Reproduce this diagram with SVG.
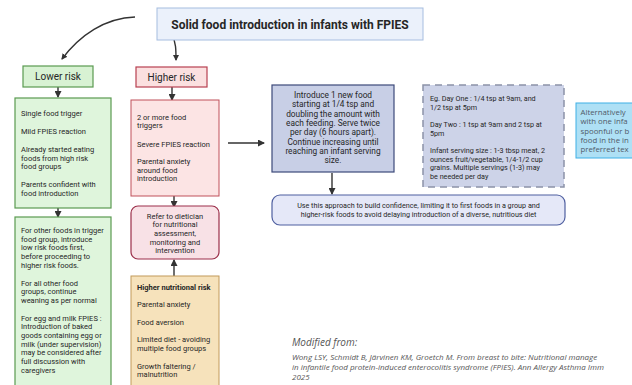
<svg xmlns="http://www.w3.org/2000/svg" width="632" height="385" viewBox="0 0 632 385">
<style>
text{font-family:Roboto,"Liberation Sans",sans-serif;fill:#262626}
.b{font-size:7.5px}
.c{font-size:8.3px;text-anchor:middle}
.d{font-size:7.2px}
.h{font-size:10px;text-anchor:middle}
.ref{font-family:"Open Sans","Liberation Sans",sans-serif;font-style:italic;fill:#555}
.alt{font-family:"Open Sans","Liberation Sans",sans-serif;font-size:7.8px;fill:#505a68}
.ln{stroke:#333;stroke-width:1.4;fill:none}
</style>
<defs>
<marker id="ah" markerWidth="6" markerHeight="6" refX="5" refY="3" orient="auto" markerUnits="userSpaceOnUse"><path d="M0,0 L6,3 L0,6 Z" fill="#333"/></marker>
<marker id="ah2" markerWidth="7" markerHeight="7" refX="6" refY="3.5" orient="auto" markerUnits="userSpaceOnUse"><path d="M0,0 L7,3.5 L0,7 Z" fill="#333"/></marker>
</defs>
<rect width="632" height="385" fill="#fff"/>

<g id="connectors">
<path class="ln" d="M135,17 C105,18 80,35 62,59" stroke-width="1.2" marker-end="url(#ah)"/>
<path class="ln" d="M172,35 C176,42 176,50 176,60" stroke-width="1.2" marker-end="url(#ah)"/>
<line class="ln" x1="58" y1="87" x2="58" y2="97" marker-end="url(#ah2)"/>
<line class="ln" x1="58" y1="208" x2="58" y2="217" marker-end="url(#ah2)"/>
<line class="ln" x1="172" y1="87" x2="172" y2="100" marker-end="url(#ah2)"/>
<line class="ln" x1="174" y1="196" x2="174" y2="207" marker-end="url(#ah2)"/>
<line class="ln" x1="174" y1="276" x2="174" y2="260" marker-end="url(#ah2)"/>
<line class="ln" x1="228" y1="143" x2="264" y2="143" marker-end="url(#ah2)"/>
<line class="ln" x1="332" y1="173" x2="332" y2="194" marker-end="url(#ah2)"/>
</g>

<g id="title">
<rect x="157" y="8" width="266" height="32" fill="#ebf1fb" stroke="#a6bde0" stroke-width="1"/>
<text x="290" y="28.5" font-size="12" font-weight="bold" text-anchor="middle">Solid food introduction in infants with FPIES</text>
</g>

<g id="lower-risk">
<rect x="23" y="66" width="70" height="21" fill="#d8f2d3" stroke="#5a9a50" stroke-width="1.2"/>
<text class="h" x="58" y="80">Lower risk</text>
</g>

<g id="higher-risk">
<rect x="136" y="67" width="71" height="20" fill="#fbe0e0" stroke="#b84050" stroke-width="1.2"/>
<text class="h" x="171.5" y="80.5">Higher risk</text>
</g>

<g id="lower-criteria">
<rect x="15" y="98" width="96" height="110" fill="#dff5dc" stroke="#5a9a50" stroke-width="1.2"/>
<text class="b" x="21" y="116">Single food trigger</text>
<text class="b" x="21" y="134">Mild FPIES reaction</text>
<text class="b" x="21" y="152">Already started eating</text>
<text class="b" x="21" y="160.7">foods from high risk</text>
<text class="b" x="21" y="169.4">food groups</text>
<text class="b" x="21" y="187">Parents confident with</text>
<text class="b" x="21" y="195.7">food introduction</text>
</g>

<g id="lower-advice">
<rect x="15" y="217" width="96" height="175" fill="#dff5dc" stroke="#5a9a50" stroke-width="1.2"/>
<text class="b" x="21" y="233">For other foods in trigger</text>
<text class="b" x="21" y="241.7">food group, introduce</text>
<text class="b" x="21" y="250.4">low risk foods first,</text>
<text class="b" x="21" y="259.1">before proceeding to</text>
<text class="b" x="21" y="267.8">higher risk foods.</text>
<text class="b" x="21" y="285.5">For all other food</text>
<text class="b" x="21" y="294.2">groups, continue</text>
<text class="b" x="21" y="302.9">weaning as per normal</text>
<text class="b" x="21" y="320.6">For egg and milk FPIES :</text>
<text class="b" x="21" y="329.3">Introduction of baked</text>
<text class="b" x="21" y="338">goods containing egg or</text>
<text class="b" x="21" y="346.7">milk (under supervision)</text>
<text class="b" x="21" y="355.4">may be considered after</text>
<text class="b" x="21" y="364.1">full discussion with</text>
<text class="b" x="21" y="372.8">caregivers</text>
</g>

<g id="higher-criteria">
<rect x="131" y="100" width="88" height="96" fill="#fce4e4" stroke="#c0505a" stroke-width="1"/>
<text class="b" x="137" y="119.5">2 or more  food</text>
<text class="b" x="137" y="128.2">triggers</text>
<text class="b" x="137" y="146.5">Severe FPIES reaction</text>
<text class="b" x="137" y="164">Parental anxiety</text>
<text class="b" x="137" y="172.7">around food</text>
<text class="b" x="137" y="181.4">introduction</text>
</g>

<g id="refer">
<rect x="131" y="206" width="88" height="53" rx="7" fill="#f8e1e6" stroke="#9b2f4a" stroke-width="1.2"/>
<text class="b" x="175" y="218.5" text-anchor="middle">Refer to dietician</text>
<text class="b" x="175" y="227.2" text-anchor="middle">for nutritional</text>
<text class="b" x="175" y="235.9" text-anchor="middle">assessment,</text>
<text class="b" x="175" y="244.6" text-anchor="middle">monitoring and</text>
<text class="b" x="175" y="253.3" text-anchor="middle">intervention</text>
</g>

<g id="nutritional-risk">
<rect x="131" y="276" width="88" height="115" fill="#f6e2bb" stroke="#c29a5a" stroke-width="1"/>
<text class="b" x="137" y="289.5" font-weight="bold">Higher nutritional risk</text>
<text class="b" x="137" y="307">Parental anxiety</text>
<text class="b" x="137" y="324.5">Food aversion</text>
<text class="b" x="137" y="342">Limited diet - avoiding</text>
<text class="b" x="137" y="350.7">multiple food groups</text>
<text class="b" x="137" y="368.5">Growth faltering /</text>
<text class="b" x="137" y="377.2">malnutrition</text>
</g>

<g id="introduce">
<rect x="272" y="85" width="122" height="87" fill="#c8cfe6" stroke="#3d4a7a" stroke-width="1.2"/>
<text class="c" x="333" y="98">Introduce 1 new food</text>
<text class="c" x="333" y="107.3">starting at 1/4 tsp and</text>
<text class="c" x="333" y="116.6">doubling the amount with</text>
<text class="c" x="333" y="125.9">each feeding. Serve twice</text>
<text class="c" x="333" y="135.2">per day (6 hours apart).</text>
<text class="c" x="333" y="144.5">Continue increasing until</text>
<text class="c" x="333" y="153.8">reaching an infant serving</text>
<text class="c" x="333" y="163.1">size.</text>
</g>

<g id="example">
<rect x="423" y="85" width="141" height="102" fill="#cdd3e8" stroke="#8c93a8" stroke-width="1.5" stroke-dasharray="7 5"/>
<text class="d" x="430" y="101">Eg. Day One : 1/4 tsp at 9am, and</text>
<text class="d" x="430" y="109.5">1/2 tsp at 5pm</text>
<text class="d" x="430" y="127">Day Two : 1 tsp at 9am and 2 tsp at</text>
<text class="d" x="430" y="135.5">5pm</text>
<text class="d" x="430" y="153">Infant serving size : 1-3 tbsp meat, 2</text>
<text class="d" x="430" y="161.5">ounces fruit/vegetable, 1/4-1/2 cup</text>
<text class="d" x="430" y="170">grains. Multiple servings (1-3) may</text>
<text class="d" x="430" y="178.5">be needed per day</text>
</g>

<g id="alternative">
<rect x="576" y="103" width="70" height="55" fill="#aee0f5" stroke="#3fb0e6" stroke-width="1"/>
<text class="alt" x="580.5" y="115">Alternatively</text>
<text class="alt" x="580.5" y="124.3">with one infa</text>
<text class="alt" x="580.5" y="133.6">spoonful or b</text>
<text class="alt" x="580.5" y="142.9">food in the in</text>
<text class="alt" x="580.5" y="152.2">preferred tex</text>
</g>

<g id="approach">
<rect x="272" y="195" width="293" height="30" rx="8" fill="#e5e8f8" stroke="#4f5fa0" stroke-width="1.2"/>
<text class="d" x="418.5" y="208" text-anchor="middle">Use this approach to build confidence, limiting it to first foods in a group and</text>
<text class="d" x="418.5" y="217" text-anchor="middle">higher-risk foods to avoid delaying introduction of a diverse, nutritious diet</text>
</g>

<g id="citation">
<text class="ref" x="292" y="346" font-size="10">Modified from:</text>
<text class="ref" x="292" y="360" font-size="8">Wong LSY, Schmidt B, Järvinen KM, Groetch M.  From breast to bite: Nutritional manage</text>
<text class="ref" x="292" y="370" font-size="8">in infantile food protein-induced enterocolitis syndrome (FPIES). Ann Allergy Asthma Imm</text>
<text class="ref" x="292" y="380" font-size="8">2025</text>
</g>
</svg>
